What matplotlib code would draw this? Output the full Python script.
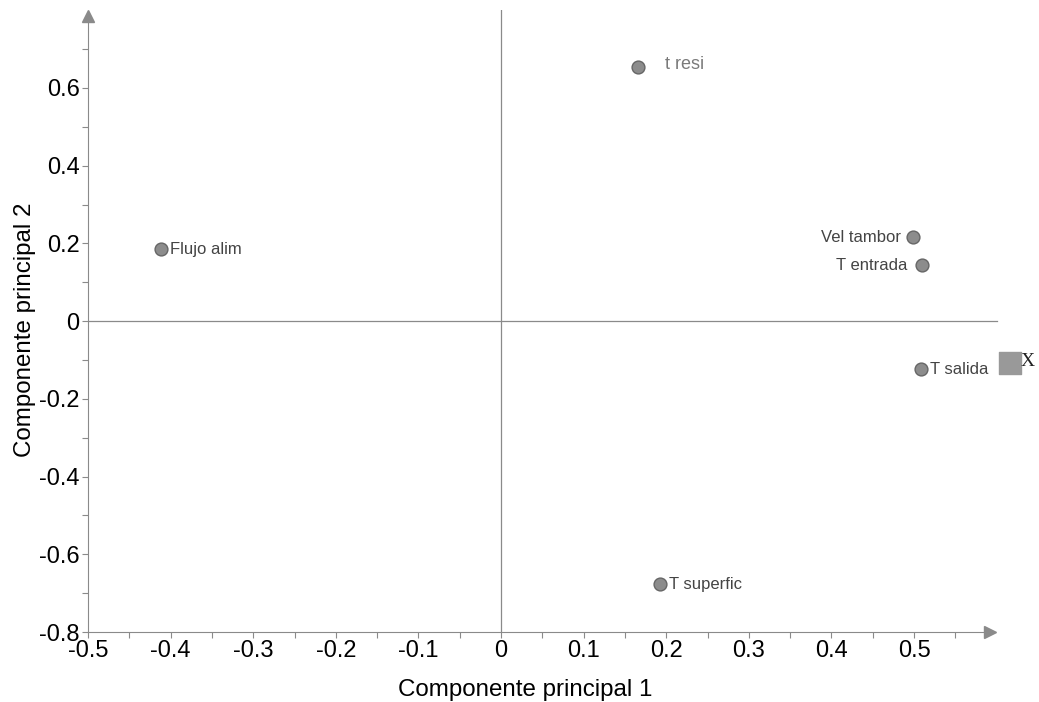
import matplotlib.pyplot as plt

plt.rcParams['font.family'] = ['Liberation Sans', 'DejaVu Sans']
plt.rcParams['axes.unicode_minus'] = False

# cargas de las variables (componente 1, componente 2)
nombres = ['t resi', 'Flujo alim', 'Vel tambor', 'T entrada', 'T salida', 'T superfic']
pc1 = [0.166, -0.412, 0.499, 0.510, 0.508, 0.192]
pc2 = [0.654, 0.185, 0.216, 0.144, -0.124, -0.677]
# punto de la respuesta
x_pc1 = [0.616]
x_pc2 = [-0.108]

xticks = [-0.5, -0.4, -0.3, -0.2, -0.1, 0, 0.1, 0.2, 0.3, 0.4, 0.5]
yticks = [-0.8, -0.6, -0.4, -0.2, 0, 0.2, 0.4, 0.6]

gris = '#8a8a8a'

fig = plt.figure(figsize=(10.39, 7.02), dpi=100)
ax = fig.add_axes([0.0847, 0.0997, 0.9063, 0.8858])
ax.set_xlim(-0.5, 0.64)
ax.set_ylim(-0.8, 0.8)

for s in ['top', 'right']:
    ax.spines[s].set_visible(False)
ax.spines['left'].set_color(gris)
ax.spines['bottom'].set_color(gris)
ax.spines['bottom'].set_bounds(-0.5, 0.59)
ax.spines['left'].set_bounds(-0.8, 0.78)
# flechas de los ejes
ax.plot([0.592], [-0.8], marker='>', color=gris, markersize=8, clip_on=False)
ax.plot([-0.5], [0.785], marker='^', color=gris, markersize=8, clip_on=False)

# lineas del origen
ax.plot([-0.5, 0.6], [0, 0], color=gris, linewidth=0.9)
ax.plot([0, 0], [-0.8, 0.8], color=gris, linewidth=0.9)

ax.set_xticks(xticks)
ax.set_xticklabels([('%g' % v) for v in xticks])
ax.set_xticks([-0.45 + 0.1 * i for i in range(11)], minor=True)
ax.set_yticks(yticks)
ax.set_yticklabels([('%g' % v) for v in yticks])
ax.set_yticks([-0.7 + 0.2 * i for i in range(8)], minor=True)
ax.tick_params(which='both', color=gris, length=4, width=0.8)
ax.tick_params(labelsize=17, pad=2)

ax.scatter(pc1, pc2, s=85, color='#8c8c8c', edgecolors='#666666', linewidths=1, zorder=3)
ax.scatter(x_pc1, x_pc2, s=230, marker='s', color='#999999', zorder=3, clip_on=False)

# etiquetas de los puntos
offs = {
    't resi': (19, 2, 'left', '#7a7a7a', 13),
    'Flujo alim': (7, 0, 'left', '#444444', 12),
    'Vel tambor': (-9, 0, 'right', '#444444', 12),
    'T entrada': (-11, 0, 'right', '#444444', 12),
    'T salida': (7, 0, 'left', '#444444', 12),
    'T superfic': (7, 0, 'left', '#444444', 12),
}
for n, a, b in zip(nombres, pc1, pc2):
    dx, dy, ha, c, fs = offs[n]
    ax.annotate(n, (a, b), xytext=(dx, dy), textcoords='offset points',
                ha=ha, va='center', color=c, fontsize=fs)
ax.annotate('X', (x_pc1[0], x_pc2[0]), xytext=(8, 1), textcoords='offset points',
            ha='left', va='center', color='#222222', fontsize=14,
            family=['Liberation Serif', 'DejaVu Serif'], annotation_clip=False)

ax.set_xlabel('Componente principal 1', fontsize=17.4, labelpad=12)
ax.set_ylabel('Componente principal 2', fontsize=17.4, labelpad=2.5)
ax.xaxis.label.set_x(0.464)
ax.yaxis.label.set_y(0.486)

fig.savefig('out.png', dpi=100)
